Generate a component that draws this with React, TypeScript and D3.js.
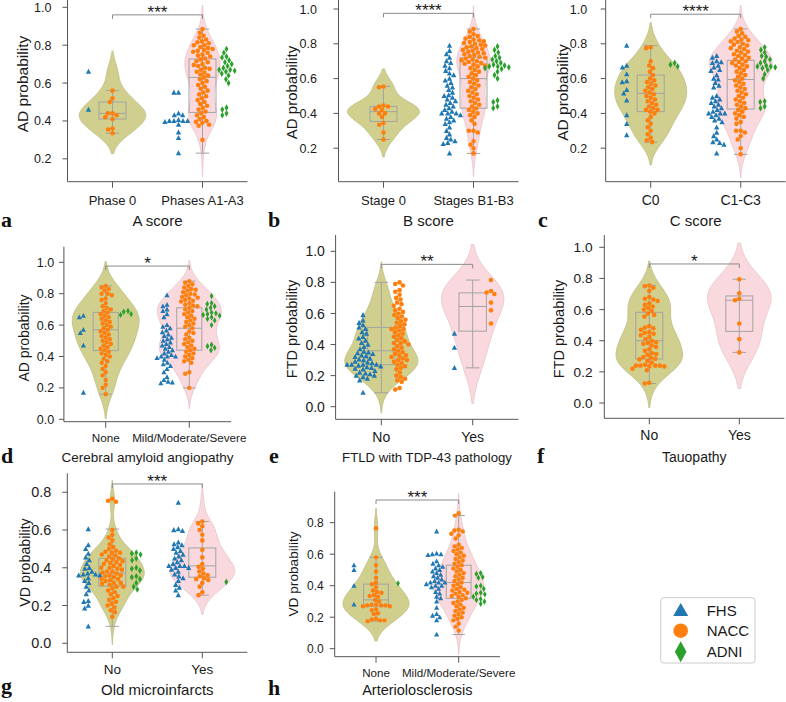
import React from 'react';
import * as d3 from 'd3';

const COHORTS = ['FHS', 'NACC', 'ADNI'];
const COLORS: Record<string, string> = { FHS: '#1f77b4', NACC: '#ff7f0e', ADNI: '#2ca02c' };
const VIOLIN_FILL = ['#d0cf8e', '#f9d9dd'];

const ticksAC = [0.2, 0.4, 0.6, 0.8, 1.0];
const ticksDF = [0.0, 0.2, 0.4, 0.6, 0.8, 1.0];
const ticksGH = [0.0, 0.2, 0.4, 0.6, 0.8];

// ---------- Panel a : A score ----------
const catsA = ['Phase 0', 'Phases A1-A3'];
const aFHS0 = [0.66, 0.46];
const aNACC0 = [0.56, 0.52, 0.50, 0.44, 0.44, 0.43, 0.42, 0.41, 0.36, 0.355, 0.335];
const aADNI0: number[] = [];
const aFHS1 = [0.55, 0.55, 0.44, 0.43, 0.43, 0.40, 0.40, 0.395, 0.40, 0.405, 0.40, 0.38, 0.34, 0.31, 0.23];
const aNACC1 = [0.885, 0.865, 0.85, 0.84, 0.83, 0.82,
  0.815, 0.81, 0.80, 0.80, 0.79, 0.785, 0.78, 0.775, 0.77, 0.765, 0.76, 0.75, 0.745, 0.74, 0.73,
  0.725, 0.715, 0.71, 0.70, 0.695, 0.69, 0.68, 0.675, 0.67, 0.66, 0.655, 0.645, 0.64, 0.63, 0.62, 0.61,
  0.60, 0.59, 0.58, 0.57, 0.56, 0.55, 0.54, 0.53, 0.52, 0.51,
  0.50, 0.49, 0.48, 0.47, 0.46, 0.45, 0.44, 0.43, 0.42, 0.41, 0.40, 0.395, 0.39, 0.38, 0.375,
  0.30];
const aADNI1 = [0.78, 0.76, 0.74, 0.735, 0.72, 0.71, 0.70, 0.69, 0.68, 0.67, 0.67, 0.665, 0.66, 0.65, 0.64, 0.62, 0.60, 0.47, 0.46, 0.44, 0.43];

// ---------- Panel b : B score ----------
const catsB = ['Stage 0', 'Stages B1-B3'];
const bFHS0: number[] = [];
const bNACC0 = [0.555, 0.55, 0.445, 0.44, 0.44, 0.425, 0.42, 0.40, 0.40, 0.38, 0.345, 0.335, 0.29, 0.25];
const bADNI0: number[] = [];
const bFHS1 = [0.79, 0.76, 0.74, 0.72, 0.70, 0.69, 0.675, 0.66, 0.645, 0.63, 0.62, 0.60,
  0.59, 0.575, 0.56, 0.55, 0.535, 0.52, 0.505,
  0.50, 0.49, 0.48, 0.47, 0.46, 0.45, 0.44, 0.43, 0.42, 0.41, 0.40, 0.40, 0.40, 0.39, 0.38, 0.37, 0.36, 0.35,
  0.34, 0.32, 0.30, 0.28, 0.26, 0.25, 0.24, 0.23, 0.225,
  0.17];
const bNACC1 = [0.885, 0.87, 0.855, 0.845,
  0.84, 0.83, 0.825, 0.82, 0.815, 0.81, 0.805, 0.80, 0.795, 0.79, 0.785, 0.78, 0.775, 0.77, 0.765, 0.76, 0.755, 0.75, 0.745, 0.74, 0.735, 0.73, 0.725, 0.72, 0.715, 0.71, 0.705, 0.70, 0.695, 0.69, 0.685, 0.68, 0.675, 0.67, 0.66, 0.65, 0.64, 0.63, 0.62, 0.61, 0.60,
  0.59, 0.58, 0.57, 0.56, 0.55, 0.54, 0.53, 0.52, 0.51, 0.50, 0.49, 0.48, 0.47, 0.46, 0.45, 0.44, 0.43, 0.42, 0.41, 0.40, 0.39, 0.38,
  0.36, 0.34, 0.30, 0.30, 0.29, 0.24, 0.22, 0.20, 0.17];
const bADNI1 = [0.785, 0.765, 0.75, 0.73, 0.72, 0.71, 0.70, 0.69, 0.68, 0.675, 0.67, 0.67, 0.665, 0.66, 0.655, 0.64, 0.62, 0.60, 0.475, 0.465, 0.44, 0.43];

// ---------- Panel c : C score ----------
const catsC = ['C0', 'C1-C3'];
const cFHS0 = [0.79, 0.675, 0.665, 0.625, 0.585, 0.58, 0.535, 0.515, 0.475, 0.39, 0.34, 0.275];
const cNACC0 = [0.78, 0.775, 0.70, 0.675, 0.66, 0.64, 0.62, 0.60, 0.59,
  0.58, 0.57, 0.56, 0.55, 0.54, 0.53, 0.52, 0.51, 0.50, 0.49, 0.48, 0.47, 0.46, 0.45, 0.44, 0.43, 0.42, 0.42, 0.41, 0.40,
  0.38, 0.36, 0.34, 0.32, 0.30, 0.28, 0.26, 0.245, 0.235];
const cADNI0 = [0.69, 0.68, 0.67];
const cFHS1 = [0.73, 0.72, 0.70, 0.695, 0.69, 0.675, 0.665, 0.65, 0.645, 0.62, 0.60, 0.595, 0.575, 0.56, 0.55,
  0.50, 0.49, 0.48, 0.47, 0.46, 0.45, 0.44, 0.43, 0.42, 0.41, 0.40, 0.40, 0.40, 0.39, 0.38, 0.37, 0.36,
  0.35, 0.32, 0.29, 0.27, 0.25, 0.235, 0.23, 0.22, 0.17];
const cNACC1 = [0.885, 0.87, 0.86, 0.845, 0.84, 0.83, 0.825, 0.82, 0.815, 0.81, 0.80, 0.795, 0.79, 0.78, 0.775, 0.77, 0.76, 0.755, 0.75, 0.74, 0.735, 0.73, 0.72, 0.715, 0.71, 0.70, 0.695, 0.69, 0.68, 0.675, 0.67, 0.66, 0.65, 0.64, 0.63, 0.62, 0.61, 0.60,
  0.59, 0.58, 0.57, 0.56, 0.55, 0.54, 0.53, 0.52, 0.51, 0.50, 0.49, 0.48, 0.47, 0.46, 0.45, 0.44, 0.43, 0.42, 0.41, 0.40, 0.39, 0.38,
  0.37, 0.35, 0.34, 0.30, 0.30, 0.29, 0.27, 0.25, 0.20, 0.165];
const cADNI1 = [0.78, 0.765, 0.75, 0.73, 0.725, 0.71, 0.70, 0.69, 0.675, 0.67, 0.67, 0.665, 0.66, 0.65, 0.625, 0.60, 0.47, 0.465, 0.44, 0.43];

// ---------- Panel d : Cerebral amyloid angiopathy ----------
const catsD = ['None', 'Mild/Moderate/Severe'];
const dFHS0 = [0.66, 0.65, 0.57, 0.55, 0.47, 0.17];
const dNACC0 = [0.85, 0.84, 0.83, 0.82, 0.80, 0.80, 0.79, 0.77, 0.76, 0.74, 0.72, 0.71,
  0.70, 0.69, 0.68, 0.67, 0.66, 0.65, 0.64, 0.63, 0.62, 0.61, 0.60, 0.59, 0.58, 0.57, 0.56, 0.55, 0.54, 0.53, 0.52, 0.51, 0.50, 0.49, 0.48, 0.47, 0.46, 0.45, 0.44, 0.43, 0.42, 0.41,
  0.40, 0.385, 0.37, 0.36, 0.34, 0.32, 0.30,
  0.28, 0.25, 0.22, 0.20, 0.16];
const dADNI0 = [0.69, 0.685, 0.67, 0.665];
const dFHS1 = [0.79, 0.73, 0.72, 0.70, 0.69, 0.67, 0.65, 0.60, 0.59, 0.58, 0.565, 0.555,
  0.54, 0.53, 0.52, 0.51, 0.50, 0.49, 0.48, 0.47, 0.46, 0.45, 0.44, 0.43, 0.42, 0.41, 0.40, 0.40, 0.40, 0.39, 0.38, 0.36, 0.35,
  0.34, 0.32, 0.30, 0.27, 0.25, 0.24, 0.235, 0.23];
const dNACC1 = [0.88, 0.87, 0.86, 0.85, 0.84, 0.83, 0.825, 0.82, 0.81, 0.80, 0.795, 0.79, 0.78, 0.775, 0.77, 0.76, 0.755, 0.75, 0.74, 0.73, 0.725, 0.72, 0.71, 0.70, 0.69, 0.68, 0.67, 0.66, 0.65, 0.64, 0.63, 0.62, 0.61, 0.60,
  0.59, 0.58, 0.56, 0.55, 0.54, 0.52, 0.51, 0.50, 0.49, 0.48, 0.47, 0.46, 0.45, 0.44, 0.43, 0.42, 0.41, 0.40, 0.39, 0.38,
  0.37, 0.36, 0.30, 0.29, 0.20];
const dADNI1 = [0.785, 0.74, 0.735, 0.72, 0.71, 0.70, 0.68, 0.675, 0.67, 0.665, 0.66, 0.65, 0.64, 0.63, 0.60, 0.475, 0.465, 0.455, 0.44];

// ---------- Panel e : FTLD with TDP-43 pathology ----------
const catsE = ['No', 'Yes'];
const eFHS0 = [0.59, 0.555, 0.54, 0.525, 0.51, 0.50,
  0.48, 0.47, 0.45, 0.44, 0.425, 0.41, 0.40, 0.385, 0.37, 0.355,
  0.35, 0.345, 0.34, 0.33, 0.325, 0.32, 0.31, 0.305, 0.30, 0.29, 0.285, 0.28, 0.27, 0.27, 0.27, 0.27, 0.265, 0.26, 0.255, 0.25, 0.245, 0.24, 0.23, 0.22, 0.215, 0.21, 0.20, 0.20,
  0.19, 0.18, 0.17,
  0.09];
const eNACC0 = [0.80, 0.79, 0.78, 0.75, 0.74, 0.72, 0.70, 0.69, 0.67, 0.66,
  0.65, 0.63, 0.62, 0.61, 0.60, 0.59, 0.58, 0.57, 0.56, 0.55, 0.54, 0.53, 0.52, 0.51, 0.50, 0.50, 0.49, 0.48, 0.47, 0.46,
  0.45, 0.44, 0.43, 0.42, 0.41, 0.41, 0.40, 0.39, 0.38, 0.37, 0.36, 0.35, 0.34, 0.33, 0.33, 0.32, 0.31, 0.30, 0.30, 0.29, 0.28, 0.27, 0.26, 0.25,
  0.24, 0.22, 0.20, 0.19, 0.18, 0.17, 0.16, 0.12, 0.11];
const eADNI0: number[] = [];
const eFHS1 = [0.47, 0.38, 0.25];
const eNACC1 = [0.815, 0.745, 0.735, 0.725, 0.67, 0.62, 0.535];
const eADNI1: number[] = [];

// ---------- Panel f : Tauopathy ----------
const catsF = ['No', 'Yes'];
const fFHS0: number[] = [];
const fNACC0 = [0.755, 0.75, 0.74, 0.72, 0.68, 0.67, 0.665, 0.655, 0.64, 0.63, 0.62, 0.61, 0.60, 0.59, 0.575, 0.565, 0.555,
  0.495, 0.485, 0.48, 0.47, 0.455, 0.45, 0.445, 0.435, 0.425, 0.41, 0.40, 0.39, 0.385, 0.38, 0.37, 0.36, 0.345, 0.335,
  0.32, 0.315, 0.31, 0.295, 0.29, 0.285, 0.28, 0.27, 0.26, 0.245, 0.24, 0.24, 0.24, 0.235, 0.24, 0.235, 0.22, 0.21, 0.13, 0.125];
const fADNI0: number[] = [];
const fFHS1: number[] = [];
const fNACC1 = [0.795, 0.705, 0.67, 0.66, 0.51, 0.41, 0.325];
const fADNI1: number[] = [];

// ---------- Panel g : Old microinfarcts ----------
const catsG = ['No', 'Yes'];
const gFHS0 = [0.605, 0.52, 0.50, 0.475, 0.455, 0.44, 0.42, 0.40, 0.395, 0.38, 0.37, 0.365, 0.365, 0.36, 0.36, 0.345, 0.33, 0.32, 0.30, 0.28, 0.26, 0.225, 0.22, 0.20, 0.185, 0.09];
const gNACC0 = [0.765, 0.755, 0.75, 0.60, 0.575,
  0.56, 0.545, 0.525, 0.51, 0.50,
  0.49, 0.485, 0.48, 0.48, 0.47, 0.465, 0.46, 0.45, 0.445, 0.44, 0.435, 0.43, 0.425, 0.42, 0.415, 0.41, 0.40, 0.40, 0.395, 0.39, 0.38, 0.38, 0.375, 0.37, 0.36, 0.36, 0.355, 0.35, 0.34, 0.34, 0.335, 0.33, 0.32, 0.32, 0.315, 0.31, 0.30, 0.30,
  0.29, 0.28, 0.27, 0.26, 0.25, 0.24, 0.23, 0.22, 0.21, 0.20,
  0.19, 0.175, 0.165, 0.14];
const gADNI0 = [0.48, 0.475, 0.47, 0.45, 0.44, 0.40, 0.395, 0.385, 0.355, 0.35, 0.34, 0.32, 0.30, 0.285];
const gFHS1 = [0.745, 0.605, 0.60, 0.595, 0.535, 0.525, 0.52, 0.51, 0.50, 0.49, 0.48, 0.47, 0.46, 0.45, 0.44, 0.43, 0.42, 0.41, 0.41, 0.41, 0.40, 0.40, 0.39, 0.38, 0.365, 0.355, 0.345, 0.33, 0.31, 0.295, 0.28, 0.255];
const gNACC1 = [0.645, 0.635, 0.62, 0.60, 0.575, 0.545, 0.495, 0.455, 0.42, 0.405, 0.395, 0.38, 0.37, 0.36, 0.355, 0.345, 0.34, 0.335, 0.32, 0.30, 0.27, 0.255];
const gADNI1 = [0.325];

// ---------- Panel h : Arteriolosclerosis ----------
const catsH = ['None', 'Mild/Moderate/Severe'];
const hFHS0 = [0.53, 0.50, 0.40, 0.28];
const hNACC0 = [0.765, 0.58, 0.53, 0.49, 0.45, 0.42, 0.41, 0.39, 0.37, 0.36, 0.355, 0.34, 0.335, 0.33, 0.31, 0.30, 0.28, 0.28, 0.275, 0.275, 0.275, 0.27, 0.27, 0.25, 0.245, 0.225, 0.22, 0.19, 0.185, 0.18, 0.18, 0.175];
const hADNI0 = [0.415];
const hFHS1 = [0.745, 0.605, 0.60, 0.60, 0.595, 0.555, 0.54, 0.53, 0.52, 0.51, 0.50, 0.49, 0.48, 0.47, 0.46, 0.45, 0.44, 0.43, 0.42, 0.42, 0.42, 0.41, 0.40, 0.40, 0.39, 0.38, 0.36, 0.35, 0.33, 0.32, 0.30, 0.26, 0.22, 0.21, 0.20, 0.18, 0.09];
const hNACC1 = [0.86, 0.845, 0.755, 0.75, 0.745, 0.73, 0.72, 0.70,
  0.66, 0.65, 0.64, 0.63, 0.62, 0.61, 0.60, 0.59, 0.58, 0.57, 0.56, 0.55, 0.54, 0.53, 0.52, 0.51,
  0.50, 0.49, 0.48, 0.47, 0.46, 0.45, 0.44, 0.43, 0.42, 0.41, 0.40, 0.39, 0.38, 0.375, 0.37, 0.36, 0.355, 0.35, 0.34, 0.335, 0.33, 0.32, 0.31, 0.30,
  0.29, 0.28, 0.27, 0.26, 0.25, 0.24, 0.23, 0.22, 0.21, 0.20,
  0.19, 0.18, 0.16, 0.14, 0.115];
const hADNI1 = [0.48, 0.475, 0.455, 0.45, 0.40, 0.395, 0.38, 0.355, 0.35, 0.345, 0.33, 0.315, 0.31, 0.30, 0.285];

// ---------- annotations ----------
const starsList = ['***', '****', '****', '*', '**', '*', '***', '***'];
const bracketLevels = [0.96, 0.975, 0.97, 0.976, 0.916, 0.893, 0.844, 0.944];

type Layout = {
  xL: number; xR: number; y0: number; y1: number; top: number; bottom: number;
  tickFont: number; tickGap: number; catFont: number; catBase: number;
  xlabFont: number; xlabBase: number; ylabFont: number; ylabX: number; ylabY: number;
  letterX: number; letterY: number; vw: number; r: number;
};

const panels = [
  { letter: 'a', cats: catsA, ticks: ticksAC, xlabel: 'A score', ylabel: 'AD probability', hues: ['FHS', 'NACC', 'ADNI'],
    groups: [{ FHS: aFHS0, NACC: aNACC0, ADNI: aADNI0 }, { FHS: aFHS1, NACC: aNACC1, ADNI: aADNI1 }],
    L: { xL: 67.5, xR: 247.5, y0: 196.7, y1: 7.3, top: 0, bottom: 181.7, tickFont: 12.5, tickGap: 16, catFont: 13, catBase: 204.5,
      xlabFont: 15, xlabBase: 225.5, ylabFont: 15.5, ylabX: 28, ylabY: 84, letterX: 1, letterY: 227, vw: 0.37, r: 2.3 } },
  { letter: 'b', cats: catsB, ticks: ticksAC, xlabel: 'B score', ylabel: 'AD probability', hues: ['FHS', 'NACC', 'ADNI'],
    groups: [{ FHS: bFHS0, NACC: bNACC0, ADNI: bADNI0 }, { FHS: bFHS1, NACC: bNACC1, ADNI: bADNI1 }],
    L: { xL: 338.5, xR: 518.5, y0: 183, y1: 9, top: 0, bottom: 181.7, tickFont: 12.5, tickGap: 21.5, catFont: 13, catBase: 204.5,
      xlabFont: 15, xlabBase: 225.5, ylabFont: 15, ylabX: 297, ylabY: 92.5, letterX: 268, letterY: 227, vw: 0.4, r: 2.3 } },
  { letter: 'c', cats: catsC, ticks: ticksAC, xlabel: 'C score', ylabel: 'AD probability', hues: ['FHS', 'NACC', 'ADNI'],
    groups: [{ FHS: cFHS0, NACC: cNACC0, ADNI: cADNI0 }, { FHS: cFHS1, NACC: cNACC1, ADNI: cADNI1 }],
    L: { xL: 605.7, xR: 785.7, y0: 183, y1: 9, top: 0, bottom: 181.7, tickFont: 12.5, tickGap: 18.5, catFont: 14, catBase: 204.5,
      xlabFont: 15, xlabBase: 225.5, ylabFont: 15.5, ylabX: 568, ylabY: 92.5, letterX: 538, letterY: 227, vw: 0.4, r: 2.3 } },
  { letter: 'd', cats: catsD, ticks: ticksDF, xlabel: 'Cerebral amyloid angiopathy', ylabel: 'AD probability', hues: ['FHS', 'NACC', 'ADNI'],
    groups: [{ FHS: dFHS0, NACC: dNACC0, ADNI: dADNI0 }, { FHS: dFHS1, NACC: dNACC1, ADNI: dADNI1 }],
    L: { xL: 63.9, xR: 231.1, y0: 419.3, y1: 262.3, top: 246.7, bottom: 421.7, tickFont: 12.5, tickGap: 9.7, catFont: 11.7, catBase: 442.3,
      xlabFont: 13.5, xlabBase: 462, ylabFont: 14, ylabX: 29.3, ylabY: 338, letterX: 1, letterY: 463, vw: 0.4, r: 2.2 } },
  { letter: 'e', cats: catsE, ticks: ticksDF, xlabel: 'FTLD with TDP-43 pathology', ylabel: 'FTD probability', hues: ['FHS', 'NACC'],
    groups: [{ FHS: eFHS0, NACC: eNACC0, ADNI: eADNI0 }, { FHS: eFHS1, NACC: eNACC1, ADNI: eADNI1 }],
    L: { xL: 335.6, xR: 518.4, y0: 406.7, y1: 251.3, top: 235, bottom: 419.3, tickFont: 14, tickGap: 10.7, catFont: 14, catBase: 442.3,
      xlabFont: 13.2, xlabBase: 462, ylabFont: 14.5, ylabX: 297, ylabY: 329, letterX: 269, letterY: 463, vw: 0.4, r: 2.3 } },
  { letter: 'f', cats: catsF, ticks: ticksDF, xlabel: 'Tauopathy', ylabel: 'FTD probability', hues: ['NACC'],
    groups: [{ FHS: fFHS0, NACC: fNACC0, ADNI: fADNI0 }, { FHS: fFHS1, NACC: fNACC1, ADNI: fADNI1 }],
    L: { xL: 604.3, xR: 784.3, y0: 403, y1: 247.3, top: 235, bottom: 418.3, tickFont: 13.7, tickGap: 11.7, catFont: 14, catBase: 440,
      xlabFont: 14, xlabBase: 462, ylabFont: 14.5, ylabX: 564, ylabY: 329, letterX: 537, letterY: 463, vw: 0.37, r: 2.3 } },
  { letter: 'g', cats: catsG, ticks: ticksGH, xlabel: 'Old microinfarcts', ylabel: 'VD probability', hues: ['FHS', 'NACC', 'ADNI'],
    groups: [{ FHS: gFHS0, NACC: gNACC0, ADNI: gADNI0 }, { FHS: gFHS1, NACC: gNACC1, ADNI: gADNI1 }],
    L: { xL: 67.3, xR: 247.3, y0: 643.3, y1: 454.5, top: 473.3, bottom: 652.3, tickFont: 14.4, tickGap: 16, catFont: 13.5, catBase: 674.3,
      xlabFont: 15, xlabBase: 695, ylabFont: 14.2, ylabX: 30, ylabY: 562.5, letterX: 1, letterY: 693, vw: 0.36, r: 2.3 } },
  { letter: 'h', cats: catsH, ticks: ticksGH, xlabel: 'Arteriolosclerosis', ylabel: 'VD probability', hues: ['FHS', 'NACC', 'ADNI'],
    groups: [{ FHS: hFHS0, NACC: hNACC0, ADNI: hADNI0 }, { FHS: hFHS1, NACC: hNACC1, ADNI: hADNI1 }],
    L: { xL: 334.7, xR: 500, y0: 648.7, y1: 491.2, top: 491.7, bottom: 656.7, tickFont: 12, tickGap: 11, catFont: 11.6, catBase: 676.7,
      xlabFont: 14.5, xlabBase: 695, ylabFont: 13.7, ylabX: 298, ylabY: 574, letterX: 268, letterY: 695, vw: 0.4, r: 2.2 } },
];

const FONT = "'Liberation Sans', Arial, Helvetica, sans-serif";
const SERIF = "'Liberation Serif', 'Times New Roman', serif";
const INK = '#1a1a1a';
const SPINE = '#555';
const BOXC = '#a3a3a3';

function kde(values: number[]): [number, number][] {
  const n = values.length;
  const sd = d3.deviation(values) || 0.05;
  const bw = sd * Math.pow(n, -0.2);
  const lo = (d3.min(values) as number) - 2 * bw;
  const hi = (d3.max(values) as number) + 2 * bw;
  const grid = d3.range(100).map(i => lo + (hi - lo) * i / 99);
  const k = 1 / (n * bw * Math.sqrt(2 * Math.PI));
  return grid.map(t => [t, k * d3.sum(values, v => Math.exp(-0.5 * ((t - v) / bw) ** 2))]);
}

function boxStats(values: number[]) {
  const s = values.slice().sort(d3.ascending);
  const q1 = d3.quantileSorted(s, 0.25) as number;
  const med = d3.quantileSorted(s, 0.5) as number;
  const q3 = d3.quantileSorted(s, 0.75) as number;
  const iqr = q3 - q1;
  const lo = d3.min(s.filter(v => v >= q1 - 1.5 * iqr)) as number;
  const hi = d3.max(s.filter(v => v <= q3 + 1.5 * iqr)) as number;
  return { q1, med, q3, lo, hi };
}

function swarm(ys: number[], d: number): number[] {
  const order = ys.map((_, i) => i).sort((a, b) => ys[a] - ys[b]);
  const placed: { x: number; y: number }[] = [];
  const out: number[] = new Array(ys.length).fill(0);
  for (const i of order) {
    const yv = ys[i];
    const near = placed.filter(p => Math.abs(p.y - yv) < d);
    const cands = [0];
    for (const p of near) {
      const dx = Math.sqrt(Math.max(0, d * d - (p.y - yv) ** 2));
      cands.push(p.x - dx, p.x + dx);
    }
    cands.sort((a, b) => Math.abs(a) - Math.abs(b) || a - b);
    let best = 0;
    for (const c of cands) {
      if (near.every(p => (p.x - c) ** 2 + (p.y - yv) ** 2 >= d * d - 1e-6)) { best = c; break; }
    }
    placed.push({ x: best, y: yv });
    out[i] = best;
  }
  return out;
}

function markerPath(cohort: string, cx: number, cy: number, r: number): string {
  if (cohort === 'FHS') {
    const s = r * 2.3;
    return `M${cx},${cy - s * 0.55}L${cx + s / 2},${cy + s * 0.4}L${cx - s / 2},${cy + s * 0.4}Z`;
  }
  if (cohort === 'ADNI') {
    const w = r * 0.85, h = r * 1.45;
    return `M${cx},${cy - h}L${cx + w},${cy}L${cx},${cy + h}L${cx - w},${cy}Z`;
  }
  return `M${cx + r},${cy}A${r},${r} 0 1,1 ${cx - r},${cy}A${r},${r} 0 1,1 ${cx + r},${cy}Z`;
}

function Panel({ P, idx }: { P: any; idx: number }) {
  const L: Layout = P.L;
  const x = d3.scaleLinear().domain([-0.5, 1.5]).range([L.xL, L.xR]);
  const y = d3.scaleLinear().domain([0, 1]).range([L.y0, L.y1]);
  const band = x(1) - x(0);
  const nH = P.hues.length;
  const offs: Record<string, number> = {};
  P.hues.forEach((h: string, k: number) => { offs[h] = (k - (nH - 1) / 2) * (0.8 / nH) * band; });
  const allVals = P.groups.map((g: any) => [...g.FHS, ...g.NACC, ...g.ADNI]);
  const dens = allVals.map((v: number[]) => kde(v));
  const maxD = d3.max(dens.flat() as [number, number][], (d: [number, number]) => d[1]) as number;
  const ws = (L.vw * band) / maxD;
  const boxW = 0.3 * band;
  const capW = boxW * 0.5;
  const fmt = d3.format('.1f');
  const yb = y(bracketLevels[idx]);
  const xa = x(0), xb = x(1);

  const marks: JSX.Element[] = [];
  P.groups.forEach((g: any, gi: number) => {
    COHORTS.forEach(c => {
      const vals: number[] = g[c];
      if (!vals.length) return;
      const ys = vals.map(v => y(v));
      const dx = swarm(ys, 2 * L.r);
      vals.forEach((_, i) => {
        marks.push(<path key={`${gi}-${c}-${i}`} d={markerPath(c, x(gi) + offs[c] + dx[i], ys[i], L.r)} fill={COLORS[c]} />);
      });
    });
  });

  return (
    <g>
      {dens.map((dd: [number, number][], gi: number) => {
        const cx = x(gi);
        const area = d3.area<[number, number]>().y(d => y(d[0])).x0(d => cx - d[1] * ws).x1(d => cx + d[1] * ws);
        return <path key={`v${gi}`} d={area(dd) || ''} fill={VIOLIN_FILL[gi]} stroke={gi === 0 ? '#bdbc86' : '#e8c3c8'} strokeWidth={0.8} />;
      })}
      {allVals.map((v: number[], gi: number) => {
        const b = boxStats(v);
        const cx = x(gi);
        return (
          <g key={`b${gi}`} stroke={BOXC} strokeWidth={1} fill="none">
            <line x1={cx} x2={cx} y1={y(b.lo)} y2={y(b.hi)} />
            <rect x={cx - boxW / 2} y={y(b.q3)} width={boxW} height={y(b.q1) - y(b.q3)} />
            <line x1={cx - boxW / 2} x2={cx + boxW / 2} y1={y(b.med)} y2={y(b.med)} />
            <line x1={cx - capW / 2} x2={cx + capW / 2} y1={y(b.lo)} y2={y(b.lo)} />
            <line x1={cx - capW / 2} x2={cx + capW / 2} y1={y(b.hi)} y2={y(b.hi)} />
          </g>
        );
      })}
      {marks}
      <path d={`M${xa},${yb + 4}V${yb}H${xb}V${yb + 4}`} fill="none" stroke="#8a8a8a" strokeWidth={1} />
      <text x={(xa + xb) / 2} y={yb + 3} textAnchor="middle" fontFamily={FONT} fontSize={17} fill={INK}>{starsList[idx]}</text>
      <line x1={L.xL} x2={L.xL} y1={L.top} y2={L.bottom} stroke={SPINE} strokeWidth={1} />
      <line x1={L.xL} x2={L.xR} y1={L.bottom} y2={L.bottom} stroke={SPINE} strokeWidth={1} />
      {P.ticks.map((t: number) => (
        <g key={`t${t}`}>
          <line x1={L.xL - 5} x2={L.xL} y1={y(t)} y2={y(t)} stroke={SPINE} strokeWidth={1} />
          <text x={L.xL - L.tickGap} y={y(t)} dy="0.36em" textAnchor="end" fontFamily={FONT} fontSize={L.tickFont} fill={INK}>{fmt(t)}</text>
        </g>
      ))}
      {P.cats.map((c: string, i: number) => (
        <g key={`c${i}`}>
          <line x1={x(i)} x2={x(i)} y1={L.bottom} y2={L.bottom + 6} stroke={SPINE} strokeWidth={1} />
          <text x={x(i)} y={L.catBase} textAnchor="middle" fontFamily={FONT} fontSize={L.catFont} fill={INK}>{c}</text>
        </g>
      ))}
      <text x={(L.xL + L.xR) / 2} y={L.xlabBase} textAnchor="middle" fontFamily={FONT} fontSize={L.xlabFont} fill={INK}>{P.xlabel}</text>
      <text transform={`translate(${L.ylabX},${L.ylabY}) rotate(-90)`} textAnchor="middle" fontFamily={FONT} fontSize={L.ylabFont} fill={INK}>{P.ylabel}</text>
      <text x={L.letterX} y={L.letterY} fontFamily={SERIF} fontWeight="bold" fontSize={22} fill="#111">{P.letter}</text>
    </g>
  );
}

export default function App() {
  const legendY = [610, 630.7, 651.7];
  return (
    <svg width={786} height={702} style={{ position: 'absolute', left: 0, top: 0, background: '#fff' }}>
      <rect width={786} height={702} fill="#fff" />
      {panels.map((P, i) => <Panel key={P.letter} P={P} idx={i} />)}
      <rect x={660.7} y={597.7} width={94.3} height={65.3} rx={3} fill="#fff" stroke="#cccccc" strokeWidth={1} />
      {COHORTS.map((c, i) => (
        <g key={c}>
          <path d={c === 'FHS'
            ? `M680.7,${legendY[i] - 7}L688.2,${legendY[i] + 6}L673.2,${legendY[i] + 6}Z`
            : c === 'NACC'
              ? markerPath('NACC', 680.7, legendY[i], 7.3)
              : `M680.7,${legendY[i] - 10.5}L686.5,${legendY[i]}L680.7,${legendY[i] + 10.5}L674.9,${legendY[i]}Z`}
            fill={COLORS[c]} />
          <text x={706.7} y={legendY[i] + 5.5} fontFamily={FONT} fontSize={15} fill={INK}>{c}</text>
        </g>
      ))}
    </svg>
  );
}
